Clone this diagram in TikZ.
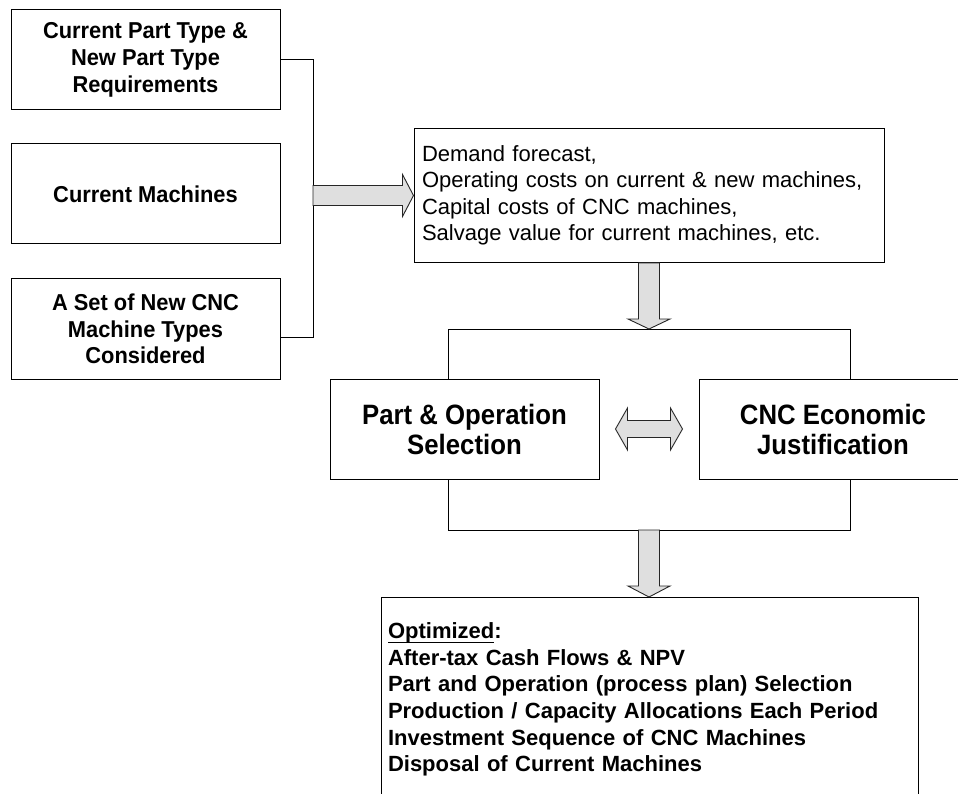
\documentclass[tikz,border=0pt]{standalone}
\usepackage{fontspec}
\setmainfont{Liberation Sans}
\newfontfamily\condA[FakeStretch=0.95]{Liberation Sans}
\newfontfamily\condB[FakeStretch=0.92]{Liberation Sans}
\usetikzlibrary{calc}
\newcommand{\ulword}[1]{\setbox0\hbox{#1}\rlap{\rule[-4.5pt]{\wd0}{1.3pt}}#1}
\tikzset{
  box/.style={draw=black, line width=1pt, fill=white, minimum width=269pt, minimum height=100pt, inner sep=0pt, align=center},
  inbox/.style={box, font=\condA\bfseries\fontsize{23}{26.7}\selectfont},
  corebox/.style={box, font=\condB\bfseries\fontsize{28}{30}\selectfont},
  databox/.style={draw=black, line width=1pt, fill=white, minimum width=470pt, minimum height=134pt, inner xsep=8pt, inner ysep=0pt, text width=454pt, align=left, font=\fontsize{22}{26.5}\selectfont},
  optbox/.style={draw=black, line width=1pt, fill=white, inner xsep=7pt, inner ysep=25pt, text width=523pt, align=left, font=\bfseries\fontsize{22}{26.7}\selectfont},
  wire/.style={draw=black, line width=1pt},
  blockarrow/.style={draw=black!85, fill=gray!25, line width=0.9pt, line join=miter},
}
\begin{document}
\begin{tikzpicture}[x=1pt,y=-1pt]
\clip (0,0) rectangle (958,794);
% input boxes
\node[inbox] (req) at (145.5,60) {Current Part Type \&\\New Part Type\\Requirements};
\node[inbox] (cur) at (145.5,194) {Current Machines};
\node[inbox] (cnc) at (145.5,329) {A Set of New CNC\\Machine Types\\Considered};
\coordinate (j1) at (313,60);
\coordinate (j3) at (313,337);
\coordinate (jm) at (313,194.5);
\draw[wire] (req.east) -- (j1) -- (j3) -- (cnc.east |- j3);
% data box
\node[databox] (data) at (649,195.5) {Demand forecast,\\Operating costs on current \& new machines,\\Capital costs of CNC machines,\\Salvage value for current machines, etc.};
% right block arrow
\draw[blockarrow] let \p1=(jm), \p2=(data.west) in
  (\x1,\y2+10pt) -- (\x2-11pt,\y2+10pt) -- (\x2-11pt,\y2+21pt) -- (\x2,\y2)
  -- (\x2-11pt,\y2-21pt) -- (\x2-11pt,\y2-10pt) -- (\x1,\y2-10pt) -- cycle;
% frame around core boxes
\coordinate (ft) at (649,329);
\coordinate (fb) at (649,530);
\coordinate (fl) at (448,329);
\coordinate (fr) at (850,530);
\draw[wire] (fl) rectangle (fr);
% core boxes
\node[corebox] (ps) at (464.5,429) {Part \& Operation\\Selection};
\node[corebox, minimum width=268pt] (ej) at (833,429) {CNC Economic\\Justification};
% down arrow 1
\draw[blockarrow] let \p1=(data.south), \p2=(ft) in
  (\x2-10.5pt,\y1) -- (\x2-10.5pt,\y2+10pt) -- (\x2-21pt,\y2+10pt) -- (\x2,\y2)
  -- (\x2+21pt,\y2+10pt) -- (\x2+10.5pt,\y2+10pt) -- (\x2+10.5pt,\y1) -- cycle;
% double arrow
\draw[blockarrow] let \p1=(ps.east), \p2=(ej.west) in
  (\x1+16pt,\y1) -- (\x1+28pt,\y1+21pt) -- (\x1+28pt,\y1+8.5pt) -- (\x2-28pt,\y1+8.5pt)
  -- (\x2-28pt,\y1+21pt) -- (\x2-16pt,\y1) -- (\x2-28pt,\y1-21pt) -- (\x2-28pt,\y1-8.5pt)
  -- (\x1+28pt,\y1-8.5pt) -- (\x1+28pt,\y1-21pt) -- cycle;
% result box
\node[optbox, anchor=north] (opt) at (649.5,597) {\ulword{Optimized}:\\After-tax Cash Flows \& NPV\\Part and Operation (process plan) Selection\\Production / Capacity Allocations Each Period\\Investment Sequence of CNC Machines\\Disposal of Current Machines};
% down arrow 2
\draw[blockarrow] let \p1=(fb), \p2=(opt.north) in
  (\x1-10.5pt,\y1) -- (\x1-10.5pt,\y2+11pt) -- (\x1-21pt,\y2+11pt) -- (\x1,\y2)
  -- (\x1+21pt,\y2+11pt) -- (\x1+10.5pt,\y2+11pt) -- (\x1+10.5pt,\y1) -- cycle;
\end{tikzpicture}
\end{document}
